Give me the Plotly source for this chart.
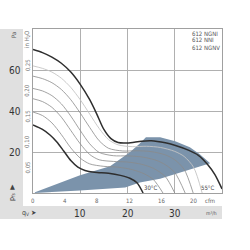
import plotly.graph_objects as go

# ---- data (x: m3/h, y: Pa) ----
c0_x = [0, 2, 4, 6, 8, 10, 12, 13.5, 15, 16.5, 18, 20, 23, 25, 28, 30, 33, 35, 37, 38.5, 40]
c0_y = [70, 68.5, 66.3, 63.3, 59, 53, 45.5, 38.5, 31, 26.5, 24.6, 24.4, 25.3, 25.5, 24.5, 23.3, 20.8, 18.4, 13.8, 9, 2]
c1_x = [0, 2, 4, 6, 8, 10, 12, 14, 16, 18, 21, 24, 27, 30, 32, 34, 35.8]
c1_y = [62, 60.8, 59, 56, 51.5, 45.5, 38.5, 31.5, 26, 23.5, 22.6, 22.8, 22.2, 20.3, 17.8, 12.5, 0]
c2_x = [0, 2, 4, 6, 8, 10, 12, 14, 16, 19, 22, 25, 28, 30, 32, 33.9]
c2_y = [57, 55.8, 53.8, 50.5, 45.5, 39, 32, 25.5, 21.8, 20.5, 20.6, 20.2, 18.6, 16.2, 11.5, 0]
c3_x = [0, 2, 4, 6, 8, 10, 12, 14, 17, 20, 23, 26, 28, 30, 32.2]
c3_y = [51, 49.8, 47.5, 43.5, 37.5, 30.5, 24, 19.8, 18.2, 18.1, 17.6, 16, 13.8, 10, 0]
c4_x = [0, 2, 4, 6, 8, 10, 12, 14, 17, 20, 23, 25.5, 28, 30]
c4_y = [46, 44.6, 41.8, 37, 30.5, 24, 18.8, 16.2, 15.4, 15.1, 14, 12, 8, 0]
c5_x = [0, 2, 4, 6, 8, 10, 12, 15, 18, 21, 23.5, 25.5, 27.5]
c5_y = [39.5, 37.8, 34.2, 28.5, 22, 17, 14.2, 13, 12.6, 11.4, 9.4, 6.5, 0]
c6_x = [0, 2, 3.6, 5, 6.5, 8, 9.5, 11, 13, 16, 18.5, 20.5, 22, 23.3]
c6_y = [33.2, 31, 28.3, 25, 20.5, 15.8, 12.6, 11, 10.1, 9.6, 8.6, 7.2, 5, 0]

area_x = [0, 9.95, 16.3, 20.5, 22.6, 23.9, 26.9, 30.1, 33.2, 35.3, 37.5, 32.2, 26.9, 22.6, 19.5, 9.95, 0]
area_y = [0, 8.7, 13.1, 19.9, 24.2, 27.2, 27.2, 25.2, 22.3, 18.9, 14.5, 10.9, 7.0, 5.1, 2.7, 1.2, 0]

pa_ticks = [60, 40, 20]
inh2o_ticks = [0.05, 0.10, 0.15, 0.20, 0.25]
inh2o_labels = ["0,05", "0,10", "0,15", "0,20", "0,25"]
cfm_ticks = [0, 4, 8, 12, 16, 20]
m3h_ticks = [10, 20, 30]
legend_lines = ["612 NGNI", "612 NNI", "612 NGNV"]

PA_PER_INH2O = 249.09
M3H_PER_CFM = 1.699
X_MAX, Y_MAX = 40, 80

# ---- figure ----
W, H = 250, 250
L, R, T, B = 33, 28, 29, 57
pw, ph = W - L - R, H - T - B

def px(x):
    return (x - L) / pw

def py(y):
    return (H - B - y) / ph

FONT = "Liberation Sans Narrow, Arial Narrow, DejaVu Sans Condensed, Liberation Sans, sans-serif"
fig = go.Figure()

fig.add_trace(go.Scatter(x=area_x, y=area_y, fill="toself", fillcolor="#7b93ab",
                         line=dict(width=0), mode="lines", hoverinfo="skip"))

thin = dict(color="#8a8a8a", width=0.8)
for cx, cy, st in [
    (c1_x, c1_y, dict(color="#c4c4c4", width=0.9)),
    (c2_x, c2_y, thin),
    (c3_x, c3_y, thin),
    (c4_x, c4_y, thin),
    (c5_x, c5_y, thin),
    (c0_x, c0_y, dict(color="#2e2e2e", width=1.5)),
    (c6_x, c6_y, dict(color="#2e2e2e", width=1.5)),
]:
    fig.add_trace(go.Scatter(x=cx, y=cy, mode="lines", line=dict(shape="spline", smoothing=0.8, **st),
                             hoverinfo="skip"))

shapes = [
    dict(type="rect", xref="paper", yref="paper", x0=px(0), x1=px(23), y0=py(219), y1=py(29),
         fillcolor="#e0e0e0", line=dict(width=0), layer="below"),
    dict(type="rect", xref="paper", yref="paper", x0=px(0), x1=px(222), y0=py(219), y1=py(206),
         fillcolor="#e0e0e0", line=dict(width=0), layer="below"),
]

ann = []
def text(x, y, t, size, color="#444", angle=0, xanchor="center"):
    ann.append(dict(x=x, y=y, xref="paper", yref="paper", text=t, showarrow=False, textangle=angle,
                    xanchor=xanchor, yanchor="middle", font=dict(size=size, color=color, family=FONT)))

for v in pa_ticks:
    text(px(15), v / Y_MAX, str(v), 10, "#333")
text(px(13), py(35), "Pa", 6, "#555", angle=-90)
for v, lab in zip(inh2o_ticks, inh2o_labels):
    text(px(27), v * PA_PER_INH2O / Y_MAX, lab, 6, "#777", angle=-90)
text(px(27), py(40), "in H<sub>2</sub>O", 6, "#777", angle=-90)
for v in cfm_ticks:
    text(v * M3H_PER_CFM / X_MAX, py(200), str(v), 6, "#666")
text(px(210), py(200), "cfm", 6, "#666")
for v in m3h_ticks:
    text(v / X_MAX, py(213), str(v), 10, "#333")
text(px(211), py(213), "m³/h", 5, "#555")
text(px(29), py(213), "q<sub>V</sub> ➤", 7, "#444")
text(px(12), py(187), "▲", 7, "#444")
text(px(12), py(197), "p<sub>fs</sub>", 7, "#444", angle=-90)
for i, s in enumerate(legend_lines):
    text(px(190), py(33 + 7 * i), s, 6, "#555", xanchor="left")
text(px(151), py(187), "30°C", 6, "#444")
text(px(208), py(187), "55°C", 6, "#444")

fig.update_layout(
    width=W, height=H, margin=dict(l=L, r=R, t=T, b=B),
    paper_bgcolor="white", plot_bgcolor="white", showlegend=False,
    shapes=shapes, annotations=ann,
    xaxis=dict(range=[0, X_MAX], dtick=10, showgrid=True, gridcolor="#b0b0b0", gridwidth=1,
               showticklabels=False, ticks="", zeroline=False, showline=True, linecolor="#a0a0a0",
               mirror=True, fixedrange=True),
    yaxis=dict(range=[0, Y_MAX], dtick=20, showgrid=True, gridcolor="#b0b0b0", gridwidth=1,
               showticklabels=False, ticks="", zeroline=False, showline=True, linecolor="#a0a0a0",
               mirror=True, fixedrange=True),
)
fig.write_html("out.html", config=dict(displayModeBar=False))
